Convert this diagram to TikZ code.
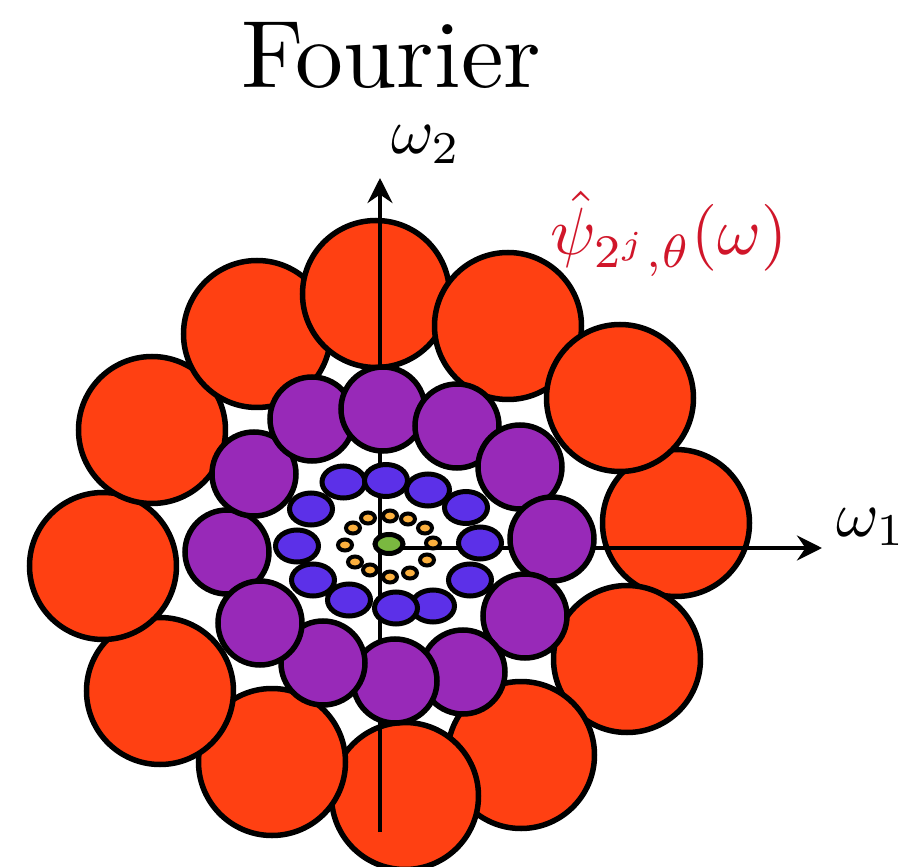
\documentclass[tikz,border=0pt]{standalone}
\usepackage{xcolor}
\usepackage{tikz}
\usetikzlibrary{arrows.meta}

\definecolor{ringRed}{RGB}{255,64,18}
\definecolor{ringPurple}{RGB}{152,41,184}
\definecolor{ringBlue}{RGB}{92,48,232}
\definecolor{ringOrange}{RGB}{252,176,62}
\definecolor{lowGreen}{RGB}{122,184,64}
\definecolor{labelRed}{RGB}{208,22,42}

\begin{document}
\begin{tikzpicture}[
    bigc/.style={circle, draw, line width=0.11cm, fill=ringRed, minimum size=2.94cm, inner sep=0pt},
    midc/.style={circle, draw, line width=0.11cm, fill=ringPurple, minimum size=1.68cm, inner sep=0pt},
    smallc/.style={draw, line width=0.1cm, fill=ringBlue, x radius=0.43cm, y radius=0.32cm},
    tinyc/.style={draw, line width=0.08cm, fill=ringOrange, x radius=0.14cm, y radius=0.11cm},
    lowc/.style={draw, line width=0.1cm, fill=lowGreen, x radius=0.28cm, y radius=0.19cm},
    axis/.style={line width=0.09cm, -{Stealth[length=0.5cm, width=0.5cm, inset=0.17cm]}},
    label/.style={anchor=base, inner sep=0pt},
    thick
]
\useasboundingbox (-7.78,-6.42) rectangle (10.38,10.9);

% scale 1: big circles
\node[bigc] (r1) at (5.74,0.44) {};
\node[bigc] (r2) at (4.76,-2.28) {};
\node[bigc] (r3) at (2.64,-4.20) {};
\node[bigc] (r4) at (0.32,-5.02) {};
\node[bigc] (r5) at (-2.34,-4.34) {};
\node[bigc] (r6) at (-4.58,-2.92) {};
\node[bigc] (r7) at (-5.72,-0.42) {};
\node[bigc] (r8) at (-4.74,2.30) {};
\node[bigc] (r9) at (-2.64,4.22) {};
\node[bigc] (r10) at (-0.26,5.02) {};
\node[bigc] (r11) at (2.38,4.38) {};
\node[bigc] (r12) at (4.62,2.94) {};

% axes
\coordinate (o) at (-0.18,-0.06);
\coordinate (ybot) at (-0.18,-5.74);
\coordinate (ytip) at (-0.18,7.34);
\coordinate (xtip) at (8.66,-0.06);
\draw[axis] (ybot) -- (ytip);
\draw[axis] (o) -- (xtip);

% scale 2
\node[midc] (p1) at (-3.24,-0.14) {};
\node[midc] (p2) at (-2.70,1.42) {};
\node[midc] (p3) at (-1.54,2.52) {};
\node[midc] (p4) at (-0.12,2.72) {};
\node[midc] (p5) at (1.36,2.38) {};
\node[midc] (p6) at (2.62,1.56) {};
\node[midc] (p7) at (3.26,0.12) {};
\node[midc] (p8) at (2.72,-1.42) {};
\node[midc] (p9) at (1.48,-2.54) {};
\node[midc] (p10) at (0.12,-2.72) {};
\node[midc] (p11) at (-1.32,-2.36) {};
\node[midc] (p12) at (-2.58,-1.56) {};

% scale 3
\draw[smallc] (-1.84,-0.02) ellipse [];
\draw[smallc] (-1.56,0.72) ellipse [];
\draw[smallc] (-0.91,1.26) ellipse [];
\draw[smallc] (-0.06,1.29) ellipse [];
\draw[smallc] (0.78,1.10) ellipse [];
\draw[smallc] (1.54,0.75) ellipse [];
\draw[smallc] (1.82,0.04) ellipse [];
\draw[smallc] (1.62,-0.70) ellipse [];
\draw[smallc] (0.88,-1.22) ellipse [];
\draw[smallc] (0.14,-1.26) ellipse [];
\draw[smallc] (-0.80,-1.10) ellipse [];
\draw[smallc] (-1.52,-0.70) ellipse [];

% scale 4
\draw[tinyc] (-0.88,0) ellipse [];
\draw[tinyc] (-0.72,0.34) ellipse [];
\draw[tinyc] (-0.42,0.54) ellipse [];
\draw[tinyc] (0.02,0.58) ellipse [];
\draw[tinyc] (0.38,0.52) ellipse [];
\draw[tinyc] (0.72,0.34) ellipse [];
\draw[tinyc] (0.88,0.04) ellipse [];
\draw[tinyc] (0.76,-0.30) ellipse [];
\draw[tinyc] (0.42,-0.56) ellipse [];
\draw[tinyc] (0.02,-0.64) ellipse [];
\draw[tinyc] (-0.38,-0.50) ellipse [];
\draw[tinyc] (-0.68,-0.34) ellipse [];

% low pass
\draw[lowc] (0,0.02) ellipse [];

% labels
\node[label, scale=5.45] (title) at (0.04,9.15) {Fourier};
\node[label, scale=3.7] (w2) at (0.74,7.82) {$\omega_2$};
\node[label, scale=3.7] (w1) at (9.64,0.18) {$\omega_1$};
\node[label, text=labelRed, scale=3.8] (psi) at (5.6,5.8) {$\hat{\psi}_{2^j,\theta}(\omega)$};

\end{tikzpicture}
\end{document}
